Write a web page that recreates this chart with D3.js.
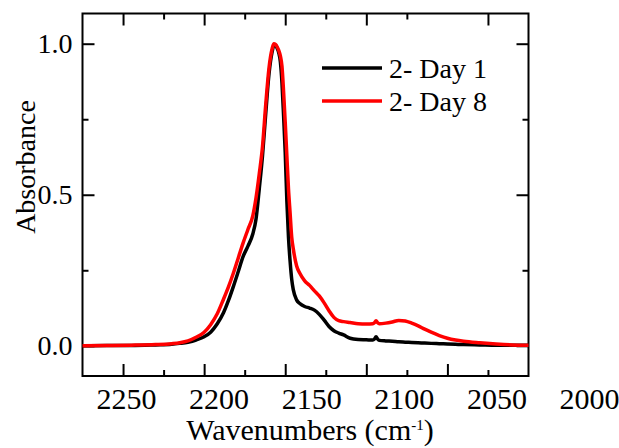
<!DOCTYPE html>
<html>
<head>
<meta charset="utf-8">
<script src="https://cdn.jsdelivr.net/npm/d3@7"></script>
<style>
  body { margin: 0; background: #fff; }
  svg { display: block; }
  svg text { font-family: 'Liberation Serif', 'Times New Roman', Times, 'DejaVu Serif', serif; fill: #000; }
</style>
</head>
<body>
<script>
// wavenumbers (cm-1), shared by both spectra
const waves = [2275, 2260, 2245, 2230, 2220, 2215, 2210, 2205, 2200, 2196, 2192, 2188, 2185, 2182, 2179, 2176,
    2173, 2170, 2168, 2166, 2164, 2162, 2160, 2158, 2157, 2156, 2155, 2154, 2153, 2152, 2151, 2150, 2149, 2148,
    2147, 2146, 2145, 2143, 2141, 2138, 2135, 2132, 2129, 2126, 2123, 2120, 2117, 2114, 2110, 2105, 2100, 2096,
    2095, 2094, 2093, 2092, 2088, 2084, 2080, 2076, 2072, 2068, 2064, 2060, 2055, 2050, 2045, 2040, 2030, 2020,
    2010, 2000];

const day1 = [0.000, 0.001, 0.001, 0.003, 0.005, 0.008, 0.012, 0.019, 0.030, 0.045, 0.072, 0.110, 0.150, 0.196,
    0.245, 0.295, 0.330, 0.370, 0.420, 0.520, 0.630, 0.770, 0.900, 0.975, 0.995, 0.995, 0.985, 0.970, 0.940,
    0.870, 0.760, 0.640, 0.480, 0.360, 0.280, 0.220, 0.185, 0.152, 0.140, 0.130, 0.125, 0.118, 0.104, 0.085,
    0.064, 0.050, 0.042, 0.036, 0.025, 0.021, 0.020, 0.019, 0.022, 0.030, 0.022, 0.018, 0.016, 0.015, 0.013,
    0.012, 0.011, 0.010, 0.009, 0.008, 0.007, 0.006, 0.005, 0.004, 0.003, 0.002, 0.002, 0.002];

const day8 = [0.000, 0.001, 0.002, 0.004, 0.007, 0.010, 0.016, 0.028, 0.045, 0.070, 0.105, 0.155, 0.195, 0.240,
    0.290, 0.340, 0.385, 0.430, 0.490, 0.570, 0.660, 0.800, 0.920, 0.985, 1.000, 0.998, 0.990, 0.978, 0.960,
    0.925, 0.840, 0.740, 0.630, 0.520, 0.440, 0.360, 0.320, 0.265, 0.240, 0.215, 0.200, 0.182, 0.165, 0.142,
    0.116, 0.094, 0.083, 0.080, 0.077, 0.073, 0.072, 0.073, 0.076, 0.083, 0.076, 0.073, 0.075, 0.079, 0.084,
    0.082, 0.075, 0.066, 0.055, 0.045, 0.034, 0.025, 0.019, 0.015, 0.010, 0.006, 0.003, 0.002];

const seriesNames = ["2- Day 1", "2- Day 8"];
const xMajor = [2250, 2200, 2150, 2100, 2050];
const xMinor = [2225, 2175, 2125, 2075, 2025];
const xTopMajor = [2250, 2200, 2150, 2100, 2025];
const xTopMinor = [2225, 2175, 2125, 2075];
const xLabels = [2250, 2200, 2150, 2100, 2050, 2000];
const yMajor = [0, 0.5, 1];
const yMinor = [0.25, 0.75];

const width = 619,
    height = 448;
const frame = { left: 82.5, right: 528.5, top: 13.5, bottom: 376 };
const colors = ["#000000", "#ff0000"];
const serif = "'Liberation Serif', 'Times New Roman', Times, 'DejaVu Serif', serif";

const svg = d3.select("body")
    .append("svg")
    .attr("width", width)
    .attr("height", height);

const x = d3.scaleLinear()
    .domain([2275, 2000])
    .range([frame.left, frame.right]);

const y = d3.scaleLinear()
    .domain([-0.1, 1.1])
    .range([frame.bottom, frame.top]);

// tick labels sit on a slightly wider spacing than the tick marks in the original
const xLab = d3.scaleLinear()
    .domain([2250, 2000])
    .range([126, 589]);

// tick marks, all pointing inward
function ticks(axis, vals, size, tx, ty) {
    svg.append("g")
        .attr("class", "ticks")
        .attr("transform", "translate(" + tx + "," + ty + ")")
        .call(axis.tickValues(vals).tickSize(-size).tickFormat(""));
}
ticks(d3.axisBottom(x), xMajor, 12, 0, frame.bottom);
ticks(d3.axisBottom(x), xMinor, 6, 0, frame.bottom);
ticks(d3.axisTop(x), xTopMajor, 12, 0, frame.top);
ticks(d3.axisTop(x), xTopMinor, 6, 0, frame.top);
ticks(d3.axisLeft(y), yMajor, 12, frame.left, 0);
ticks(d3.axisLeft(y), yMinor, 6, frame.left, 0);
ticks(d3.axisRight(y), yMajor, 12, frame.right, 0);
ticks(d3.axisRight(y), yMinor, 6, frame.right, 0);

svg.selectAll(".ticks path").remove();
svg.selectAll(".ticks line")
    .attr("stroke", "#000")
    .attr("stroke-width", 2);

// frame
svg.append("rect")
    .attr("x", frame.left)
    .attr("y", frame.top)
    .attr("width", frame.right - frame.left)
    .attr("height", frame.bottom - frame.top)
    .attr("fill", "none")
    .attr("stroke", "#000")
    .attr("stroke-width", 2);

// tick labels
const xAxis = svg.append("g")
    .attr("transform", "translate(0," + frame.bottom + ")")
    .call(d3.axisBottom(xLab).tickValues(xLabels).tickSize(0).tickPadding(12).tickFormat(d3.format("d")));

const yAxis = svg.append("g")
    .attr("transform", "translate(" + frame.left + ",0)")
    .call(d3.axisLeft(y).tickValues(yMajor).tickSize(0).tickPadding(10).tickFormat(d3.format(".1f")));

[[xAxis, 30], [yAxis, 28]].forEach(([g, fs]) => {
    g.select(".domain").remove();
    g.attr("font-family", serif);
    g.selectAll("text")
        .style("font-family", serif)
        .attr("font-size", fs)
        .attr("fill", "#000");
});

// spectra
const line = d3.line()
    .x((d, i) => x(waves[i]))
    .y(d => y(d))
    .curve(d3.curveMonotoneX);

[day1, day8].forEach((s, i) => {
    svg.append("path")
        .datum(s)
        .attr("d", line)
        .attr("fill", "none")
        .attr("stroke", colors[i])
        .attr("stroke-width", 3.5)
        .attr("stroke-linejoin", "round");
});

// legend
seriesNames.forEach((name, i) => {
    const ly = 68 + i * 33;
    svg.append("line")
        .attr("x1", 322)
        .attr("x2", 382)
        .attr("y1", ly)
        .attr("y2", ly)
        .attr("stroke", colors[i])
        .attr("stroke-width", 3.5);
    svg.append("text")
        .attr("x", 389)
        .attr("y", ly + 9.5)
        .style("font-family", serif)
        .attr("font-size", 28)
        .text(name);
});

// axis titles
svg.append("text")
    .attr("transform", "translate(35,167) rotate(-90)")
    .attr("text-anchor", "middle")
    .style("font-family", serif)
    .attr("font-size", 28)
    .text("Absorbance");

const xt = svg.append("text")
    .attr("x", 310)
    .attr("y", 440)
    .attr("text-anchor", "middle")
    .style("font-family", serif)
    .attr("font-size", 30);
xt.append("tspan").text("Wavenumbers (cm");
xt.append("tspan").attr("font-size", 15).attr("dy", -10).text("-1");
xt.append("tspan").attr("dy", 10).text(")");
</script>
</body>
</html>
